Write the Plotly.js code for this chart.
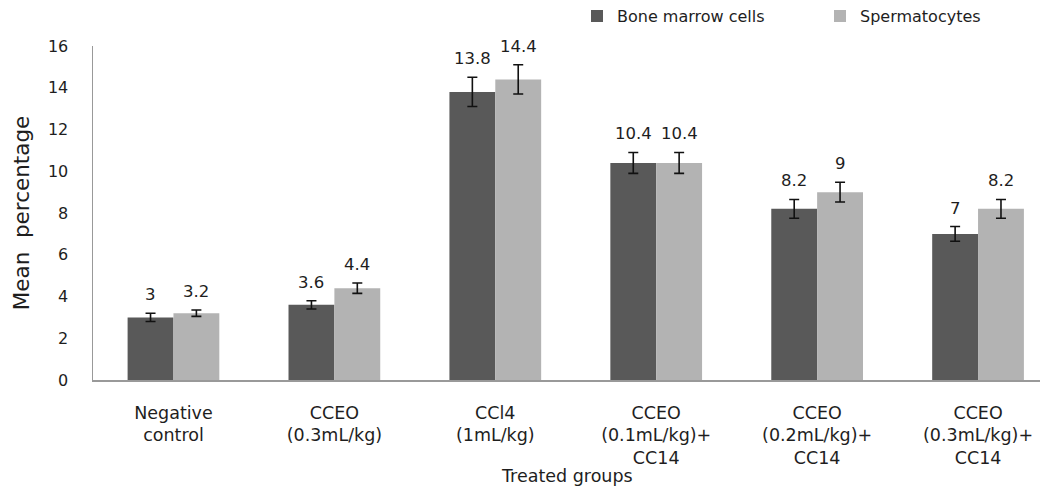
<!DOCTYPE html>
<html>
<head>
<meta charset="utf-8">
<script src="https://cdn.plot.ly/plotly-3.0.1.min.js"></script>
<style>html,body{margin:0;padding:0;background:#fff;}#chart{width:1042px;height:488px;}</style>
</head>
<body>
<div id="chart"></div>
<script>
const categories = ["Negative<br>control", "CCEO<br>(0.3mL/kg)", "CCl4<br>(1mL/kg)", "CCEO<br>(0.1mL/kg)+<br>CC14", "CCEO<br>(0.2mL/kg)+<br>CC14", "CCEO<br>(0.3mL/kg)+<br>CC14"];
const boneMarrow = [3, 3.6, 13.8, 10.4, 8.2, 7];
const boneMarrowErr = [0.2, 0.2, 0.7, 0.5, 0.45, 0.35];
const spermatocytes = [3.2, 4.4, 14.4, 10.4, 9, 8.2];
const spermatocytesErr = [0.15, 0.25, 0.7, 0.5, 0.47, 0.45];
const seriesNames = ["Bone marrow cells", "Spermatocytes"];
const seriesColors = ["#595959", "#b3b3b3"];

const FONT = "'DejaVu Sans', sans-serif";
const TXT = "#1e1e1e";
const bargap = 0.43;
const half = (1 - bargap) / 4; // center offset of each bar in a group of 2

const traces = [
  {type: "bar", name: seriesNames[0], x: categories, y: boneMarrow, legend: "legend",
   marker: {color: seriesColors[0], line: {width: 0}},
   error_y: {type: "data", array: boneMarrowErr, visible: true, color: "#111", thickness: 1.6, width: 5}},
  {type: "bar", name: seriesNames[1], x: categories, y: spermatocytes, legend: "legend2",
   marker: {color: seriesColors[1], line: {width: 0}},
   error_y: {type: "data", array: spermatocytesErr, visible: true, color: "#111", thickness: 1.6, width: 5}}
];

const annotations = [];
const labelFont = {family: FONT, size: 16.5, color: TXT};
boneMarrow.forEach((v, i) => annotations.push({x: i - half, y: v + boneMarrowErr[i], xref: "x", yref: "y",
  text: String(v), showarrow: false, yanchor: "bottom", yshift: 7, font: labelFont}));
spermatocytes.forEach((v, i) => annotations.push({x: i + half, y: v + spermatocytesErr[i], xref: "x", yref: "y",
  text: String(v), showarrow: false, yanchor: "bottom", yshift: 7, font: labelFont}));
annotations.push({x: 0.5, y: -0.287, xref: "paper", yref: "paper", text: "Treated groups", showarrow: false,
  yanchor: "middle", font: {family: FONT, size: 17.5, color: TXT}});

const legendBase = {orientation: "h", xref: "container", yref: "container", xanchor: "left", yanchor: "middle",
  y: 0.967, font: {family: FONT, size: 16, color: TXT}, itemwidth: 30, bgcolor: "rgba(0,0,0,0)"};

const layout = {
  width: 1042, height: 488,
  margin: {l: 93, r: 2, t: 46, b: 108},
  paper_bgcolor: "#fff", plot_bgcolor: "#fff",
  barmode: "group", bargap: bargap, bargroupgap: 0,
  font: {family: FONT, color: TXT},
  showlegend: true,
  legend: Object.assign({}, legendBase, {x: 577 / 1042}),
  legend2: Object.assign({}, legendBase, {x: 820 / 1042}),
  xaxis: {type: "category", range: [-0.5, 5.385], showline: true, linecolor: "#999", linewidth: 1.5,
    showgrid: false, zeroline: false, ticks: "outside", ticklen: 16, tickcolor: "rgba(0,0,0,0)",
    tickfont: {family: FONT, size: 17.5, color: TXT}, automargin: false},
  yaxis: {range: [0, 16], dtick: 2, showline: true, linecolor: "#999", linewidth: 1.5,
    showgrid: false, zeroline: false, ticks: "outside", ticklen: 20, tickcolor: "rgba(0,0,0,0)",
    tickfont: {family: FONT, size: 16, color: TXT}, automargin: false,
    title: {text: "Mean  percentage", font: {family: FONT, size: 21.5, color: TXT}, standoff: 12}},
  annotations: annotations
};

Plotly.newPlot("chart", traces, layout, {displayModeBar: false, staticPlot: true});
</script>
</body>
</html>
